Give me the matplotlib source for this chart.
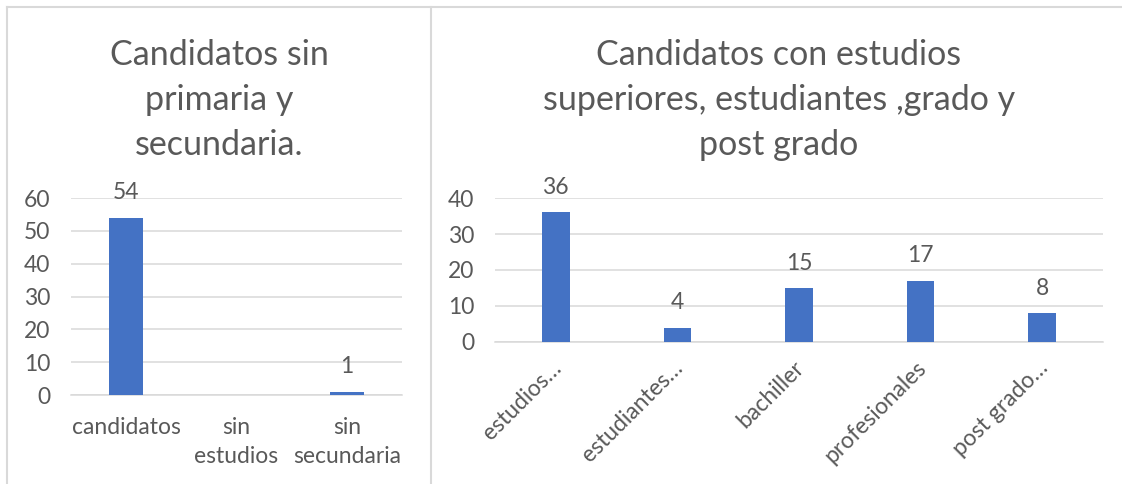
import numpy as np
import matplotlib
matplotlib.use("Agg")
import matplotlib.pyplot as plt
from matplotlib.lines import Line2D
from matplotlib.transforms import ScaledTranslation

plt.rcParams['font.family'] = ['Lato', 'DejaVu Sans']

# datos panel izquierdo
cat_izq = ['candidatos', 'sin\nestudios', 'sin\nsecundaria']
val_izq = [54, np.nan, 1]
titulo_izq = "Candidatos sin\nprimaria y\nsecundaria."

# datos panel derecho
cat_der = ['estudios…', 'estudiantes…', 'bachiller', 'profesionales', 'post grado…']
val_der = [36, 4, 15, 17, 8]
titulo_der = "Candidatos con estudios\nsuperiores, estudiantes ,grado y\npost grado"

AZUL = '#4472C4'
GRIS_TXT = '#595959'
GRIS_LIN = '#D9D9D9'
W, H = 1122, 484
FS = 16.5


def fx(px):
    return px / W


def fy(py):
    return 1 - py / H


fig = plt.figure(figsize=(W / 100, H / 100), dpi=100)

# bordes de los paneles
for xs, ys in [([7, 1121], [7, 7]), ([7, 7], [7, 484]), ([431, 431], [7, 484])]:
    fig.add_artist(Line2D([fx(x) for x in xs], [fy(y) for y in ys],
                          color=GRIS_LIN, lw=1.5, transform=fig.transFigure))


def panel(ax, cats, vals, ymax, ancho, rot):
    x = np.arange(len(cats))
    ax.bar(x, vals, width=ancho, color=AZUL, zorder=3)
    ax.set_xlim(-0.5, len(cats) - 0.5)
    ax.set_ylim(0, ymax)
    ax.set_yticks(np.arange(0, ymax + 1, 10))
    ax.grid(axis='y', color=GRIS_LIN, lw=1.1, zorder=0)
    for s in ['top', 'right', 'left']:
        ax.spines[s].set_visible(False)
    ax.spines['bottom'].set_color(GRIS_LIN)
    ax.spines['bottom'].set_linewidth(1.1)
    ax.tick_params(axis='y', length=0, pad=15, labelsize=FS, labelcolor=GRIS_TXT)
    ax.tick_params(axis='x', length=0, labelsize=FS, labelcolor=GRIS_TXT)
    ax.set_xticks(x)
    if rot:
        ax.tick_params(axis='x', pad=16.5)
        ax.set_xticklabels(cats, rotation=45, ha='right', va='center',
                           rotation_mode='anchor')
        desplaz = ScaledTranslation(0.02, 0, fig.dpi_scale_trans)
        for lbl in ax.get_xticklabels():
            lbl.set_transform(lbl.get_transform() + desplaz)
    else:
        ax.tick_params(axis='x', pad=16)
        ax.set_xticklabels(cats, linespacing=1.45)
    for xi, v in zip(x, vals):
        if np.isnan(v):
            continue
        ax.annotate(f"{int(v)}", (xi, v), xytext=(0, 18), textcoords='offset points',
                    ha='center', va='center', fontsize=FS, color=GRIS_TXT)


ax1 = fig.add_axes([fx(71), fy(395), fx(402) - fx(71), fy(198) - fy(395)])
panel(ax1, cat_izq, [float(v) for v in val_izq], 60, 0.31, False)

ax2 = fig.add_axes([fx(495), fy(342), fx(1103) - fx(495), fy(198) - fy(342)])
panel(ax2, cat_der, [float(v) for v in val_der], 40, 0.226, True)

fig.text(fx(219), fy(100), titulo_izq, ha='center', va='center', ma='center',
         fontsize=24.5, color=GRIS_TXT, linespacing=1.5)
fig.text(fx(779), fy(100), titulo_der, ha='center', va='center', ma='center',
         fontsize=24.5, color=GRIS_TXT, linespacing=1.5)

fig.savefig("out.png", dpi=100, facecolor='white')
